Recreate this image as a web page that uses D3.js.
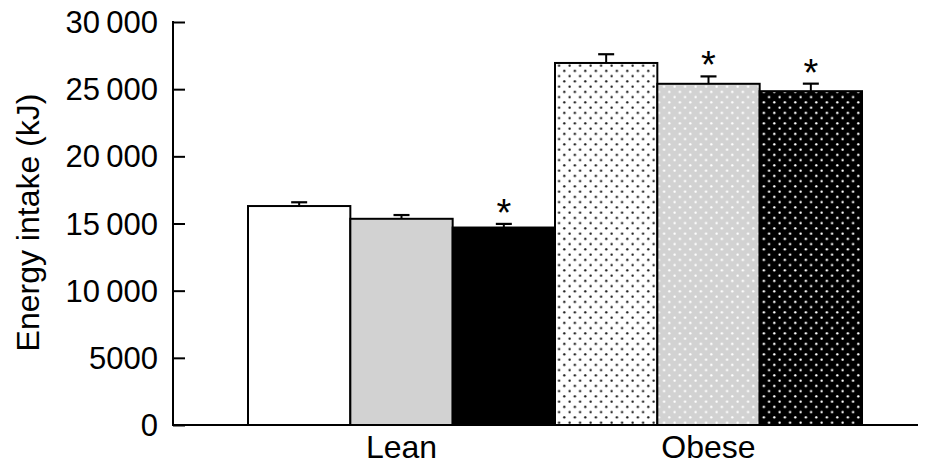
<!DOCTYPE html>
<html>
<head>
<meta charset="utf-8">
<script src="https://cdn.jsdelivr.net/npm/d3@7"></script>
<style>
body { margin: 0; background: #fff; }
text { font-family: "Liberation Sans", Arial, sans-serif; fill: #000; }
</style>
</head>
<body>
<svg id="chart" width="932" height="468"></svg>
<script>
var groups = ["Lean", "Obese"];
var series = ["s1", "s2", "s3"];
var means = [[16300, 15350, 14700], [26950, 25400, 24850]];
var sems = [[280, 280, 270], [650, 550, 560]];
var stars = [[false, false, true], [false, true, true]];
var yTicks = [0, 5000, 10000, 15000, 20000, 25000, 30000];

var svg = d3.select("#chart");
var x0 = 173, x1 = 918, yTop = 22, yBot = 425;

var y = d3.scaleLinear().domain([0, 30000]).range([yBot, yTop]);
var xg = d3.scaleBand().domain(groups).range([248, 862]).padding(0);
var xs = d3.scaleBand().domain(series).range([0, xg.bandwidth()]).padding(0);

// dot patterns for the obese bars
var defs = svg.append("defs");
var pats = [["p1", "#fff", "#222"], ["p2", "#d2d2d2", "#fff"], ["p3", "#000", "#fff"]];
pats.forEach(function (p) {
    var pt = defs.append("pattern").attr("id", p[0]).attr("patternUnits", "userSpaceOnUse")
        .attr("width", 10.5).attr("height", 10.5);
    pt.append("rect").attr("width", 10.5).attr("height", 10.5).attr("fill", p[1]);
    pt.append("circle").attr("cx", 2.6).attr("cy", 2.6).attr("r", 1.2).attr("fill", p[2]);
    pt.append("circle").attr("cx", 7.85).attr("cy", 7.85).attr("r", 1.2).attr("fill", p[2]);
});
var fills = [["#fff", "#d2d2d2", "#000"], ["url(#p1)", "url(#p2)", "url(#p3)"]];

var g = svg.append("g");
groups.forEach(function (grp, gi) {
    series.forEach(function (s, si) {
        var bx = xg(grp) + xs(s), bw = xs.bandwidth();
        var cx = bx + bw / 2;
        var top = y(means[gi][si] + sems[gi][si]);
        g.append("line").attr("x1", cx).attr("x2", cx)
            .attr("y1", y(means[gi][si])).attr("y2", top)
            .attr("stroke", "#000").attr("stroke-width", 2);
        g.append("line").attr("x1", cx - 8).attr("x2", cx + 8)
            .attr("y1", top).attr("y2", top)
            .attr("stroke", "#000").attr("stroke-width", 2.2);
        g.append("rect").attr("x", bx).attr("y", y(means[gi][si]))
            .attr("width", bw).attr("height", yBot - y(means[gi][si]))
            .attr("fill", fills[gi][si]).attr("stroke", "#000").attr("stroke-width", 2);
        if (stars[gi][si]) {
            g.append("text").attr("x", cx).attr("y", top + 2)
                .attr("text-anchor", "middle").attr("font-size", 38).text("*");
        }
    });
});

// y axis, ticks pointing inward
var fmt = function (d) { return d >= 10000 ? d3.format(",")(d).replace(",", "\u2009") : d; };
var ax = svg.append("g").attr("transform", "translate(" + x0 + ",0)")
    .call(d3.axisRight(y).tickValues(yTicks).tickSize(12).tickFormat(""));
ax.select(".domain").remove();
ax.selectAll(".tick line").attr("stroke", "#000").attr("stroke-width", 2);
svg.append("line").attr("x1", x0).attr("x2", x0).attr("y1", yTop - 1).attr("y2", yBot + 1)
    .attr("stroke", "#000").attr("stroke-width", 2);
svg.append("g").selectAll("text").data(yTicks).join("text")
    .attr("x", 158).attr("y", function (d) { return y(d); }).attr("dy", "0.36em")
    .attr("text-anchor", "end").attr("font-size", 31).text(fmt);

// x axis
svg.append("line").attr("x1", x0 - 1).attr("x2", x1).attr("y1", yBot).attr("y2", yBot)
    .attr("stroke", "#000").attr("stroke-width", 2.2);
svg.append("g").selectAll("text").data(groups).join("text")
    .attr("x", function (d) { return xg(d) + xg.bandwidth() / 2; }).attr("y", 458)
    .attr("text-anchor", "middle").attr("font-size", 32).text(function (d) { return d; });

svg.append("text").attr("transform", "translate(39," + ((yTop + yBot) / 2 - 1) + ") rotate(-90)")
    .attr("text-anchor", "middle").attr("font-size", 32).text("Energy intake (kJ)");
</script>
</body>
</html>
